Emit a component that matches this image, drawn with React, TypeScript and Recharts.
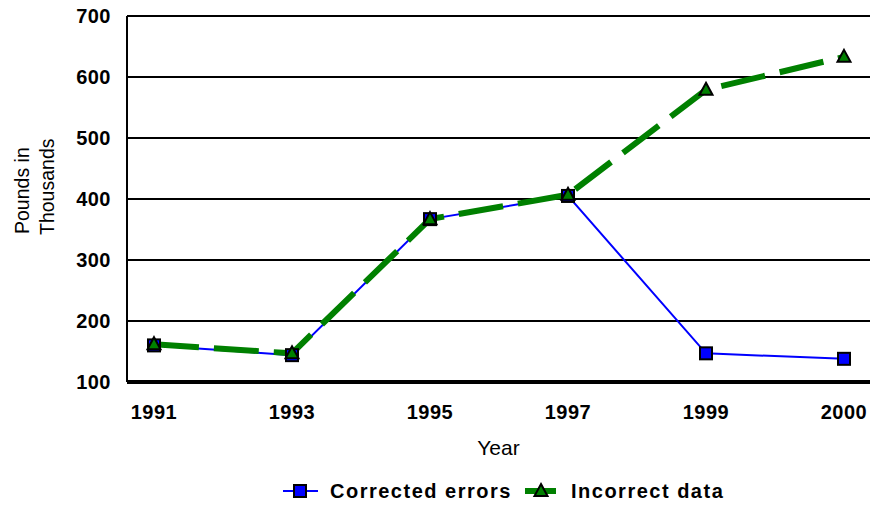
import React from "react";
import {
  LineChart,
  Line,
  XAxis,
  YAxis,
  CartesianGrid,
  Label,
} from "recharts";

const years = ["1991", "1993", "1995", "1997", "1999", "2000"];
const correctedErrors = [160, 144, 367, 405, 147, 138];
const incorrectData = [162, 147, 367, 407, 579, 633];
const yTicks = [100, 200, 300, 400, 500, 600, 700];

const data = years.map((year, i) => ({
  year,
  corrected: correctedErrors[i],
  incorrect: incorrectData[i],
}));

const FONT = "'Liberation Sans', Arial, sans-serif";
const BLUE = "#0000ff";
const GREEN = "#008000";

const tickStyle = {
  fill: "#000",
  fontSize: 20,
  fontWeight: 700,
  fontFamily: FONT,
  letterSpacing: 0.5,
};

function SquareDot(props: any) {
  const { cx, cy } = props;
  if (cx == null || cy == null) return null;
  return (
    <rect x={cx - 6} y={cy - 6} width={12} height={12} fill={BLUE} stroke="#000" strokeWidth={2} />
  );
}

function TriangleDot(props: any) {
  const { cx, cy } = props;
  if (cx == null || cy == null) return null;
  return (
    <polygon
      points={`${cx},${cy - 7} ${cx + 6.5},${cy + 5} ${cx - 6.5},${cy + 5}`}
      fill={GREEN}
      stroke="#000"
      strokeWidth={2}
    />
  );
}

function ChartLegend() {
  const text = {
    fontSize: 20,
    fontWeight: 700,
    fontFamily: FONT,
    letterSpacing: 1.5,
    fill: "#000",
  };
  return (
    <svg
      width={870}
      height={30}
      style={{ position: "absolute", left: 0, top: 477, display: "block" }}
    >
      <line x1={283} y1={14} x2={318} y2={14} stroke={BLUE} strokeWidth={2} />
      <rect x={294} y={8} width={12} height={12} fill={BLUE} stroke="#000" strokeWidth={2} />
      <text x={330} y={21} {...text}>Corrected errors</text>
      <line x1={525} y1={14} x2={556} y2={14} stroke={GREEN} strokeWidth={6} />
      <polygon points="541,7 547.5,19 534.5,19" fill={GREEN} stroke="#000" strokeWidth={2} />
      <text x={571} y={21} {...text}>Incorrect data</text>
    </svg>
  );
}

function YTitle() {
  const style = { fontSize: 19.5, fontFamily: FONT, fill: "#000" };
  return (
    <g>
      <text x={22} y={234} transform="rotate(-90, 22, 234)" textAnchor="start" dominantBaseline="central" {...style}>
        Pounds in
      </text>
      <text x={47} y={235} transform="rotate(-90, 47, 235)" textAnchor="start" dominantBaseline="central" {...style}>
        Thousands
      </text>
    </g>
  );
}

function XTitle(props: any) {
  const { viewBox } = props;
  return (
    <text
      x={viewBox.x + viewBox.width / 2}
      y={455}
      textAnchor="middle"
      fontSize={21}
      fontFamily={FONT}
      fill="#000"
    >
      Year
    </text>
  );
}

export default function App() {
  return (
    <div style={{ position: "absolute", left: 0, top: 0, width: 870, height: 505, background: "#fff" }}>
      <LineChart
        width={870}
        height={505}
        data={data}
        margin={{ top: 16, right: 0, bottom: 0, left: 0 }}
      >
        <CartesianGrid vertical={false} stroke="#000" strokeWidth={2} />
        <XAxis
          dataKey="year"
          height={123}
          padding={{ left: 27, right: 26 }}
          axisLine={{ stroke: "#000", strokeWidth: 4 }}
          tickLine={false}
          tickSize={0}
          tickMargin={23}
          tick={tickStyle}
          interval={0}
        >
          <Label content={<XTitle />} />
        </XAxis>
        <YAxis
          width={127}
          domain={[100, 700]}
          ticks={yTicks}
          axisLine={{ stroke: "#000", strokeWidth: 2 }}
          tickLine={false}
          tickSize={0}
          tickMargin={16}
          tick={tickStyle}
          interval={0}
        >
          <Label content={<YTitle />} />
        </YAxis>
        <Line
          dataKey="corrected"
          name="Corrected errors"
          stroke={BLUE}
          strokeWidth={2}
          dot={<SquareDot />}
          activeDot={false}
          isAnimationActive={false}
        />
        <Line
          dataKey="incorrect"
          name="Incorrect data"
          stroke={GREEN}
          strokeWidth={6}
          strokeDasharray="45 15"
          dot={<TriangleDot />}
          activeDot={false}
          isAnimationActive={false}
        />
      </LineChart>
      <ChartLegend />
    </div>
  );
}
